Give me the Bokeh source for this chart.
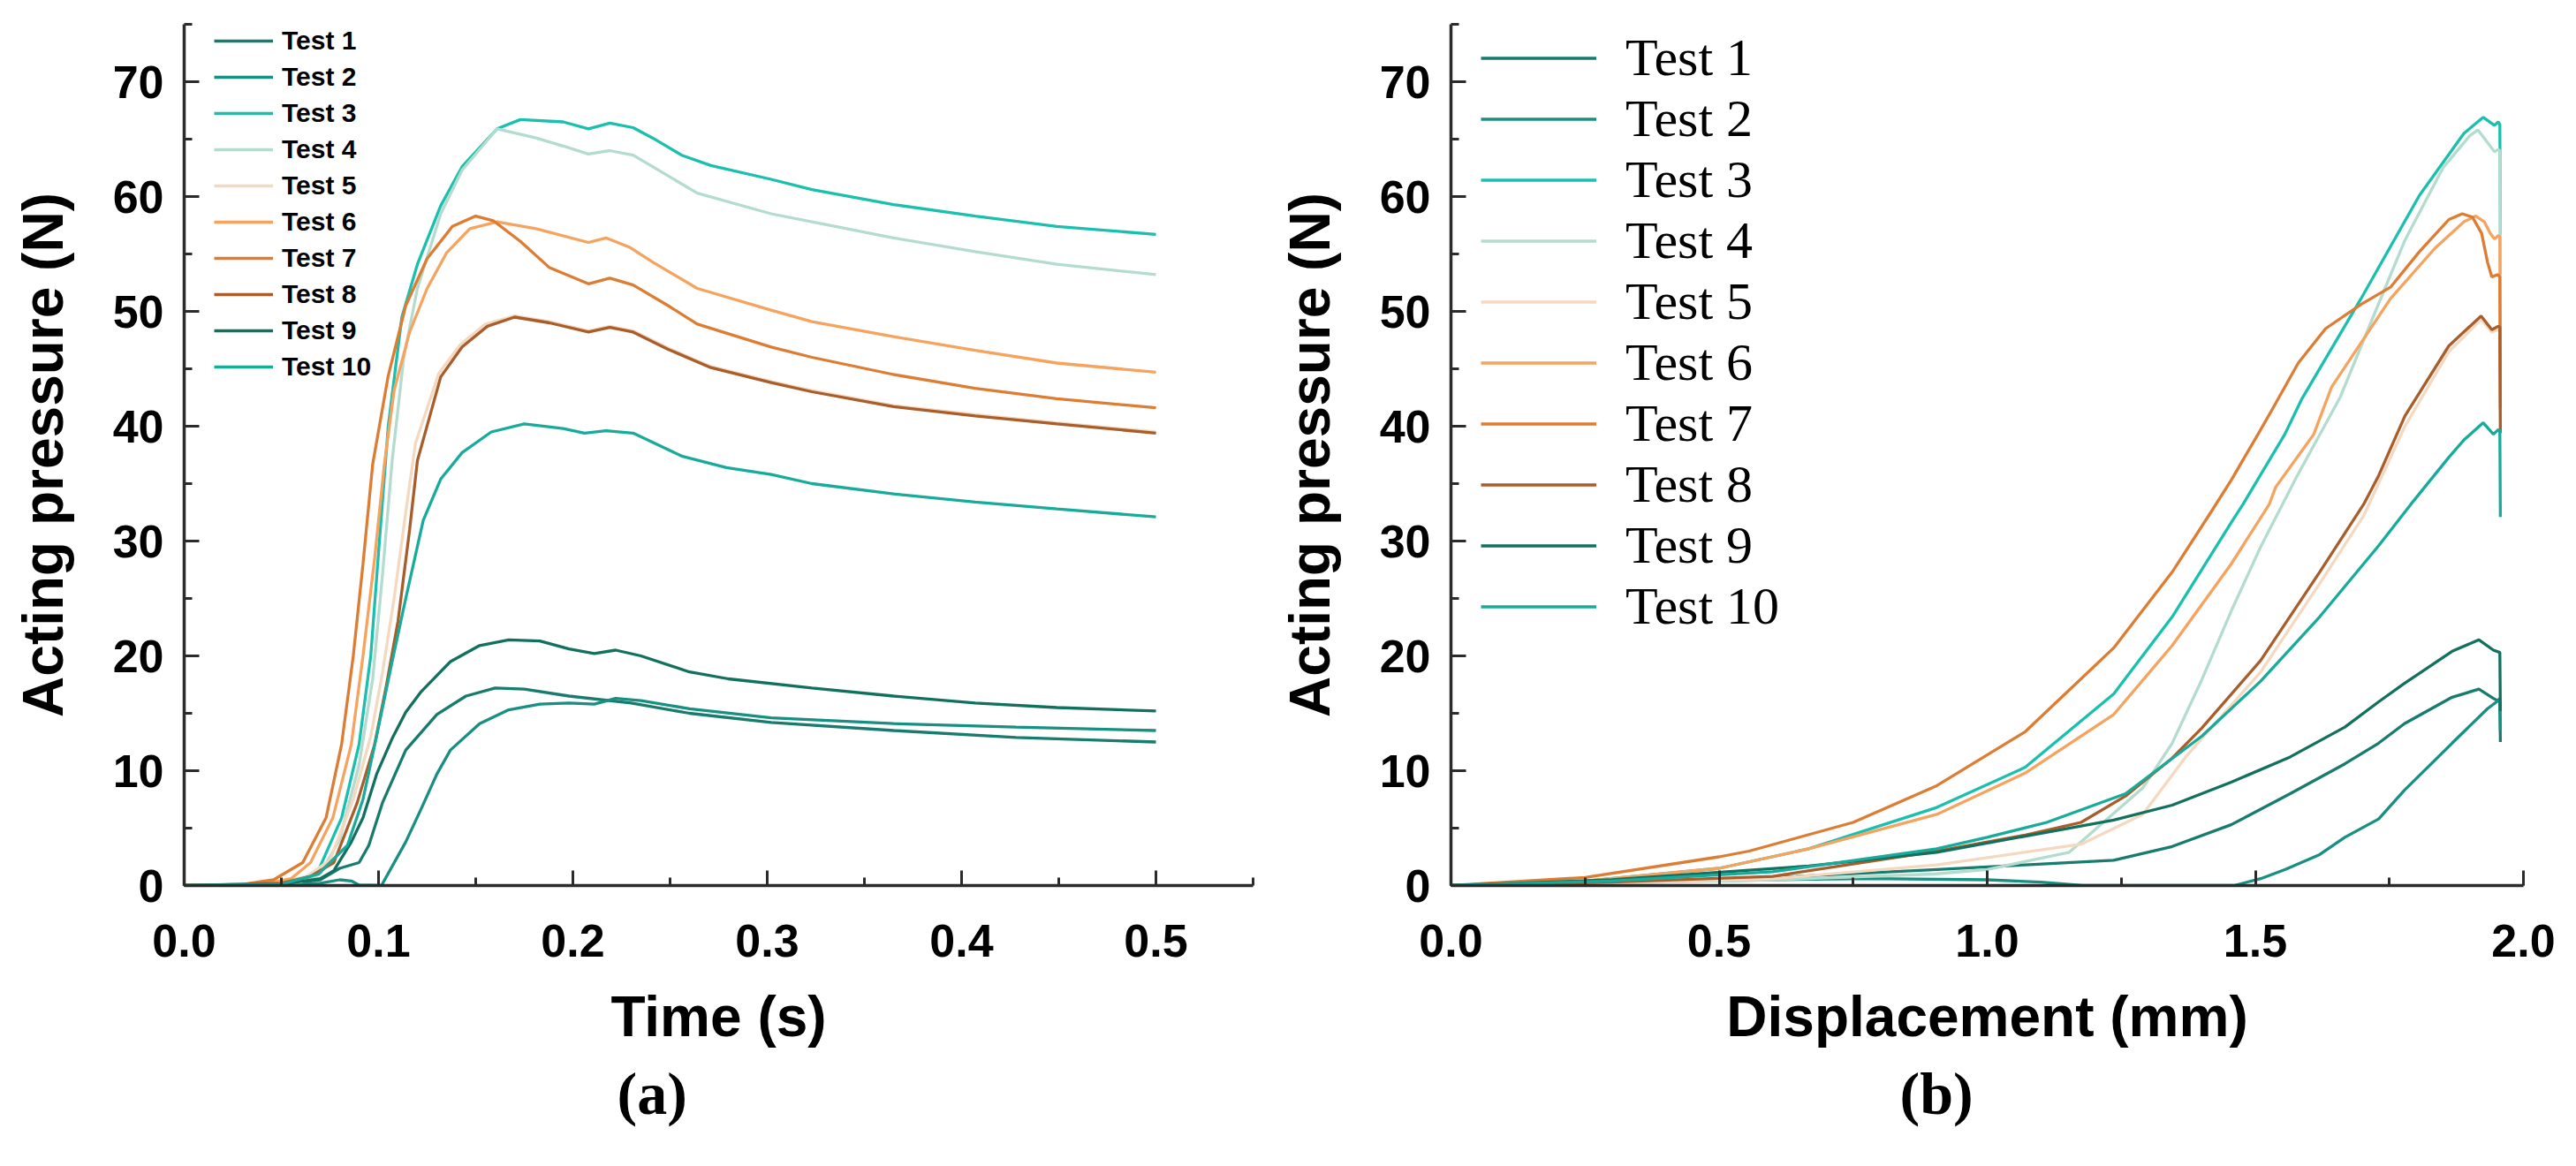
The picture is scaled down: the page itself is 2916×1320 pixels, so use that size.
from bokeh.plotting import figure
from bokeh.models import (Range1d, SingleIntervalTicker, Legend, LegendItem, Title,
                          NumeralTickFormatter)
from bokeh.layouts import row
from bokeh.embed import file_html
from bokeh.resources import INLINE

# ---------------- data ----------------
test_labels = ["Test 1", "Test 2", "Test 3", "Test 4", "Test 5",
               "Test 6", "Test 7", "Test 8", "Test 9", "Test 10"]
test_colors = ["#177c6e", "#178f82", "#1bbfae", "#b3dccf", "#f4d8bf",
               "#f5a35e", "#dd7c33", "#a95d2a", "#12705f", "#18ab9b"]

# (a) acting pressure vs time
time_t1 = [0, 0.05, 0.07, 0.08, 0.09, 0.095, 0.102, 0.114, 0.13, 0.145, 0.16, 0.175, 0.198, 0.23, 0.26, 0.302, 0.365, 0.428, 0.5]
pres_t1 = [0, 0.1, 0.5, 1.5, 2.0, 3.5, 7.2, 11.8, 14.9, 16.5, 17.2, 17.1, 16.5, 15.9, 15.0, 14.2, 13.5, 12.9, 12.5]

time_t2 = [0, 0.05, 0.07, 0.08, 0.086, 0.09, 0.1015, 0.114, 0.122, 0.13, 0.137, 0.152, 0.167, 0.183, 0.198, 0.211, 0.222, 0.235, 0.26, 0.302, 0.365, 0.428, 0.5]
pres_t2 = [0, 0.05, 0.2, 0.5, 0.4, 0.05, 0, 3.8, 6.7, 9.7, 11.8, 14.1, 15.3, 15.8, 15.9, 15.8, 16.3, 16.1, 15.4, 14.6, 14.1, 13.8, 13.5]

time_t3 = [0, 0.04, 0.06, 0.069, 0.081, 0.09, 0.096, 0.1, 0.105, 0.112, 0.12, 0.132, 0.143, 0.161, 0.173, 0.195, 0.208, 0.219, 0.231, 0.241, 0.256, 0.271, 0.302, 0.323, 0.365, 0.407, 0.449, 0.5]
pres_t3 = [0, 0.1, 0.4, 1.3, 5.9, 12.3, 20.0, 29.0, 40.0, 49.5, 54.1, 59.2, 62.6, 65.9, 66.7, 66.5, 65.9, 66.4, 66.0, 65.1, 63.6, 62.7, 61.5, 60.6, 59.3, 58.3, 57.4, 56.7]

time_t4 = [0, 0.04, 0.06, 0.07, 0.08, 0.09, 0.097, 0.102, 0.107, 0.113, 0.12, 0.132, 0.143, 0.161, 0.181, 0.195, 0.208, 0.219, 0.231, 0.241, 0.264, 0.302, 0.323, 0.365, 0.407, 0.449, 0.5]
pres_t4 = [0, 0.1, 0.3, 1.0, 4.0, 10.5, 18.0, 27.0, 37.0, 46.0, 52.0, 58.5, 62.3, 65.9, 65.1, 64.4, 63.7, 64.0, 63.6, 62.6, 60.3, 58.5, 57.8, 56.4, 55.2, 54.1, 53.2]

time_t5 = [0, 0.048, 0.063, 0.075, 0.087, 0.096, 0.102, 0.108, 0.114, 0.119, 0.131, 0.142, 0.155, 0.17, 0.188, 0.208, 0.219, 0.231, 0.249, 0.271, 0.302, 0.323, 0.365, 0.407, 0.449, 0.5]
pres_t5 = [0, 0.2, 0.8, 2.2, 7.5, 13.0, 18.5, 25.0, 32.5, 38.5, 44.6, 47.1, 48.9, 49.6, 49.1, 48.3, 48.7, 48.3, 46.8, 45.2, 43.9, 43.1, 41.8, 41.0, 40.3, 39.5]

time_t6 = [0, 0.04, 0.055, 0.065, 0.0765, 0.086, 0.092, 0.098, 0.103, 0.108, 0.116, 0.125, 0.135, 0.147, 0.161, 0.181, 0.208, 0.217, 0.229, 0.241, 0.264, 0.302, 0.323, 0.365, 0.407, 0.449, 0.5]
pres_t6 = [0, 0.1, 0.6, 2.0, 5.9, 12.3, 20.0, 28.5, 36.7, 43.1, 48.2, 52.0, 55.1, 57.2, 57.8, 57.2, 56.0, 56.4, 55.6, 54.3, 52.0, 50.1, 49.1, 47.8, 46.6, 45.5, 44.7]

time_t7 = [0, 0.03, 0.046, 0.061, 0.073, 0.081, 0.087, 0.092, 0.097, 0.105, 0.114, 0.125, 0.138, 0.15, 0.159, 0.173, 0.188, 0.208, 0.219, 0.231, 0.249, 0.264, 0.302, 0.323, 0.365, 0.407, 0.449, 0.5]
pres_t7 = [0, 0.1, 0.5, 2.0, 5.9, 12.3, 20.0, 28.0, 36.7, 44.4, 50.5, 54.6, 57.4, 58.3, 57.9, 56.1, 53.8, 52.4, 52.9, 52.3, 50.5, 48.9, 46.9, 46.0, 44.5, 43.3, 42.4, 41.6]

time_t8 = [0, 0.05, 0.065, 0.077, 0.089, 0.098, 0.104, 0.11, 0.116, 0.12, 0.132, 0.143, 0.156, 0.17, 0.188, 0.208, 0.219, 0.231, 0.249, 0.271, 0.302, 0.323, 0.365, 0.407, 0.449, 0.5]
pres_t8 = [0, 0.2, 0.8, 2.0, 7.2, 12.3, 17.4, 23.0, 31.0, 37.0, 44.3, 46.9, 48.7, 49.5, 49.0, 48.2, 48.6, 48.2, 46.7, 45.1, 43.8, 43.0, 41.7, 40.9, 40.2, 39.4]

time_t9 = [0, 0.05, 0.07, 0.077, 0.086, 0.092, 0.099, 0.107, 0.114, 0.122, 0.137, 0.152, 0.167, 0.183, 0.198, 0.211, 0.222, 0.235, 0.26, 0.28, 0.323, 0.365, 0.407, 0.449, 0.5]
pres_t9 = [0, 0.1, 0.6, 1.3, 3.8, 5.9, 9.7, 12.8, 15.1, 16.9, 19.5, 20.9, 21.4, 21.3, 20.6, 20.2, 20.5, 20.0, 18.6, 18.0, 17.2, 16.5, 15.9, 15.5, 15.2]

time_t10 = [0, 0.05, 0.069, 0.084, 0.092, 0.099, 0.107, 0.114, 0.123, 0.132, 0.143, 0.158, 0.175, 0.195, 0.206, 0.217, 0.231, 0.256, 0.279, 0.302, 0.323, 0.365, 0.407, 0.449, 0.5]
pres_t10 = [0, 0.1, 1.0, 3.5, 7.5, 13.0, 19.5, 25.0, 31.8, 35.4, 37.7, 39.5, 40.2, 39.8, 39.4, 39.6, 39.4, 37.4, 36.4, 35.8, 35.0, 34.1, 33.4, 32.8, 32.1]

# (b) acting pressure vs displacement
disp_t1 = [0, 0.3, 0.6, 0.78, 0.906, 1.071, 1.236, 1.345, 1.455, 1.565, 1.667, 1.73, 1.778, 1.867, 1.917, 1.944, 1.956, 1.957]
dpres_t1 = [0, 0.3, 0.7, 1.1, 1.4, 1.8, 2.2, 3.4, 5.3, 8.0, 10.6, 12.4, 14.1, 16.4, 17.1, 16.3, 16.0, 12.5]

disp_t2 = [0, 0.3, 0.6, 0.78, 1.0, 1.1, 1.178, 1.46, 1.51, 1.556, 1.62, 1.667, 1.73, 1.778, 1.867, 1.933, 1.95, 1.956, 1.957]
dpres_t2 = [0, 0.3, 0.5, 0.6, 0.5, 0.3, 0, 0, 0.6, 1.4, 2.7, 4.2, 5.8, 8.3, 12.4, 15.4, 16.0, 16.3, 13.5]

disp_t3 = [0, 0.25, 0.5, 0.667, 0.906, 1.071, 1.236, 1.345, 1.455, 1.477, 1.555, 1.587, 1.697, 1.806, 1.889, 1.925, 1.946, 1.953, 1.956, 1.957]
dpres_t3 = [0, 0.4, 1.5, 3.2, 6.8, 10.3, 16.7, 23.4, 31.6, 33.2, 39.3, 42.4, 51.1, 60.1, 65.5, 66.9, 66.2, 66.5, 66.3, 56.7]

disp_t4 = [0, 0.3, 0.6, 0.9, 1.0, 1.153, 1.29, 1.345, 1.4, 1.455, 1.51, 1.576, 1.658, 1.724, 1.779, 1.85, 1.9, 1.915, 1.946, 1.953, 1.956, 1.957]
dpres_t4 = [0, 0.2, 0.5, 1.0, 1.4, 2.9, 8.5, 12.4, 17.9, 23.9, 29.5, 35.5, 42.5, 50.0, 56.2, 62.5, 65.3, 65.8, 63.9, 64.1, 64.0, 53.2]

disp_t5 = [0, 0.3, 0.6, 0.906, 1.175, 1.29, 1.372, 1.4, 1.51, 1.62, 1.702, 1.779, 1.861, 1.921, 1.941, 1.953, 1.956, 1.957]
dpres_t5 = [0, 0.2, 0.6, 1.8, 3.6, 6.2, 11.3, 12.8, 18.6, 26.3, 32.2, 40.0, 46.5, 49.3, 48.2, 48.4, 48.3, 39.5]

disp_t6 = [0, 0.25, 0.5, 0.667, 0.906, 1.071, 1.236, 1.345, 1.455, 1.526, 1.538, 1.609, 1.642, 1.752, 1.835, 1.889, 1.911, 1.927, 1.938, 1.946, 1.953, 1.956, 1.957]
dpres_t6 = [0, 0.4, 1.5, 3.2, 6.2, 9.8, 14.9, 20.9, 28.0, 33.2, 34.7, 39.3, 43.4, 51.1, 55.5, 57.8, 58.3, 57.8, 56.8, 56.3, 56.6, 56.5, 44.7]

disp_t7 = [0, 0.25, 0.5, 0.556, 0.75, 0.906, 1.071, 1.236, 1.345, 1.417, 1.455, 1.505, 1.532, 1.58, 1.631, 1.697, 1.752, 1.806, 1.861, 1.886, 1.905, 1.922, 1.933, 1.941, 1.952, 1.956, 1.957]
dpres_t7 = [0, 0.7, 2.5, 3.0, 5.5, 8.7, 13.4, 20.7, 27.3, 32.5, 35.3, 39.3, 41.5, 45.5, 48.5, 50.6, 52.1, 55.2, 58.0, 58.5, 58.2, 56.8, 54.3, 53.0, 53.2, 53.0, 41.6]

disp_t8 = [0, 0.3, 0.6, 0.906, 1.071, 1.175, 1.258, 1.345, 1.4, 1.51, 1.62, 1.702, 1.73, 1.779, 1.861, 1.921, 1.941, 1.953, 1.956, 1.957]
dpres_t8 = [0, 0.3, 0.8, 3.0, 4.4, 5.5, 7.8, 11.1, 13.7, 19.6, 27.3, 33.2, 35.7, 40.9, 47.0, 49.6, 48.4, 48.7, 48.6, 39.4]

disp_t9 = [0, 0.3, 0.667, 0.906, 1.071, 1.236, 1.345, 1.455, 1.565, 1.667, 1.73, 1.778, 1.867, 1.917, 1.944, 1.956, 1.957]
dpres_t9 = [0, 0.5, 1.7, 2.9, 4.3, 5.7, 7.0, 9.0, 11.2, 13.8, 16.0, 17.6, 20.4, 21.4, 20.5, 20.3, 15.2]

disp_t10 = [0, 0.3, 0.6, 0.906, 1.0, 1.111, 1.258, 1.4, 1.51, 1.62, 1.73, 1.79, 1.861, 1.889, 1.925, 1.944, 1.953, 1.956, 1.957]
dpres_t10 = [0, 0.4, 1.2, 3.2, 4.2, 5.5, 8.0, 13.0, 17.8, 23.4, 29.6, 33.2, 37.3, 38.8, 40.3, 39.3, 39.7, 39.6, 32.1]

time_series = [(time_t1, pres_t1), (time_t2, pres_t2), (time_t3, pres_t3), (time_t4, pres_t4),
               (time_t5, pres_t5), (time_t6, pres_t6), (time_t7, pres_t7), (time_t8, pres_t8),
               (time_t9, pres_t9), (time_t10, pres_t10)]
disp_series = [(disp_t1, dpres_t1), (disp_t2, dpres_t2), (disp_t3, dpres_t3), (disp_t4, dpres_t4),
               (disp_t5, dpres_t5), (disp_t6, dpres_t6), (disp_t7, dpres_t7), (disp_t8, dpres_t8),
               (disp_t9, dpres_t9), (disp_t10, dpres_t10)]

SANS = "Liberation Sans"
SERIF = "Liberation Serif"
AXIS_COL = "#2b2b2b"


def make_fig(xmax, xint, xlabel, left_b, right_b, frame_w):
    p = figure(frame_width=frame_w, frame_height=975,
               x_range=Range1d(0, xmax), y_range=Range1d(0, 75),
               output_backend="svg", toolbar_location=None,
               min_border_left=left_b, min_border_right=right_b,
               min_border_top=27, min_border_bottom=302,
               background_fill_color="white", border_fill_color="white")
    p.grid.visible = False
    p.outline_line_color = None
    p.xaxis.ticker = SingleIntervalTicker(interval=xint, num_minor_ticks=2)
    p.yaxis.ticker = SingleIntervalTicker(interval=10, num_minor_ticks=2)
    p.xaxis.formatter = NumeralTickFormatter(format="0.0")
    for ax in (p.xaxis[0], p.yaxis[0]):
        ax.axis_line_width = 3.5
        ax.axis_line_color = AXIS_COL
        ax.major_tick_in = 17
        ax.major_tick_out = 0
        ax.minor_tick_in = 9
        ax.minor_tick_out = 0
        ax.major_tick_line_width = 3
        ax.minor_tick_line_width = 3
        ax.major_tick_line_color = AXIS_COL
        ax.minor_tick_line_color = AXIS_COL
        ax.major_label_text_font = SANS
        ax.major_label_text_font_style = "bold"
        ax.major_label_text_font_size = "52px"
        ax.major_label_text_color = "black"
        ax.axis_label_text_font = SANS
        ax.axis_label_text_font_style = "bold"
        ax.axis_label_text_font_size = "64px"
        ax.axis_label_text_color = "black"
    p.xaxis.major_label_standoff = 44
    p.xaxis.axis_label_standoff = 29
    p.yaxis.major_label_standoff = 23
    p.yaxis.axis_label_standoff = 40
    p.xaxis.axis_label = xlabel
    p.yaxis.axis_label = "Acting pressure (N)"
    return p


def panel_title(text, offset):
    return Title(text=text, align="left", offset=offset, standoff=16,
                 text_font=SERIF, text_font_style="bold", text_font_size="68px",
                 text_color="black")


# ---------------- panel (a) ----------------
pa = make_fig(0.55, 0.1, "Time (s)", 208, 24, 1210)
items_a = []
for (xs, ys), lab, col in zip(time_series, test_labels, test_colors):
    r = pa.line(xs, ys, line_color=col, line_width=3.3)
    items_a.append(LegendItem(label=lab, renderers=[r]))
leg_a = Legend(items=items_a, location=(34, 567), orientation="vertical",
               padding=0, margin=0, spacing=1, glyph_width=67, glyph_height=40,
               label_height=40, label_standoff=10, label_text_font=SANS,
               label_text_font_style="bold", label_text_font_size="30px",
               label_text_color="black", border_line_color=None,
               background_fill_alpha=0)
pa.add_layout(leg_a)
pa.add_layout(panel_title("(a)", 490), "below")

# ---------------- panel (b) ----------------
pb = make_fig(2.0, 0.5, "Displacement (mm)", 200, 44, 1214)
items_b = []
for (xs, ys), lab, col in zip(disp_series, test_labels, test_colors):
    r = pb.line(xs, ys, line_color=col, line_width=3.3)
    items_b.append(LegendItem(label=lab, renderers=[r]))
leg_b = Legend(items=items_b, location=(34, 281), orientation="vertical",
               padding=0, margin=0, spacing=0, glyph_width=131, glyph_height=69,
               label_height=69, label_standoff=33, label_text_font=SERIF,
               label_text_font_style="normal", label_text_font_size="60px",
               label_text_color="black", border_line_color=None,
               background_fill_alpha=0)
pb.add_layout(leg_b)
pb.add_layout(panel_title("(b)", 508), "below")

layout = row(pa, pb)
open("out.html", "w").write(file_html(layout, INLINE))
